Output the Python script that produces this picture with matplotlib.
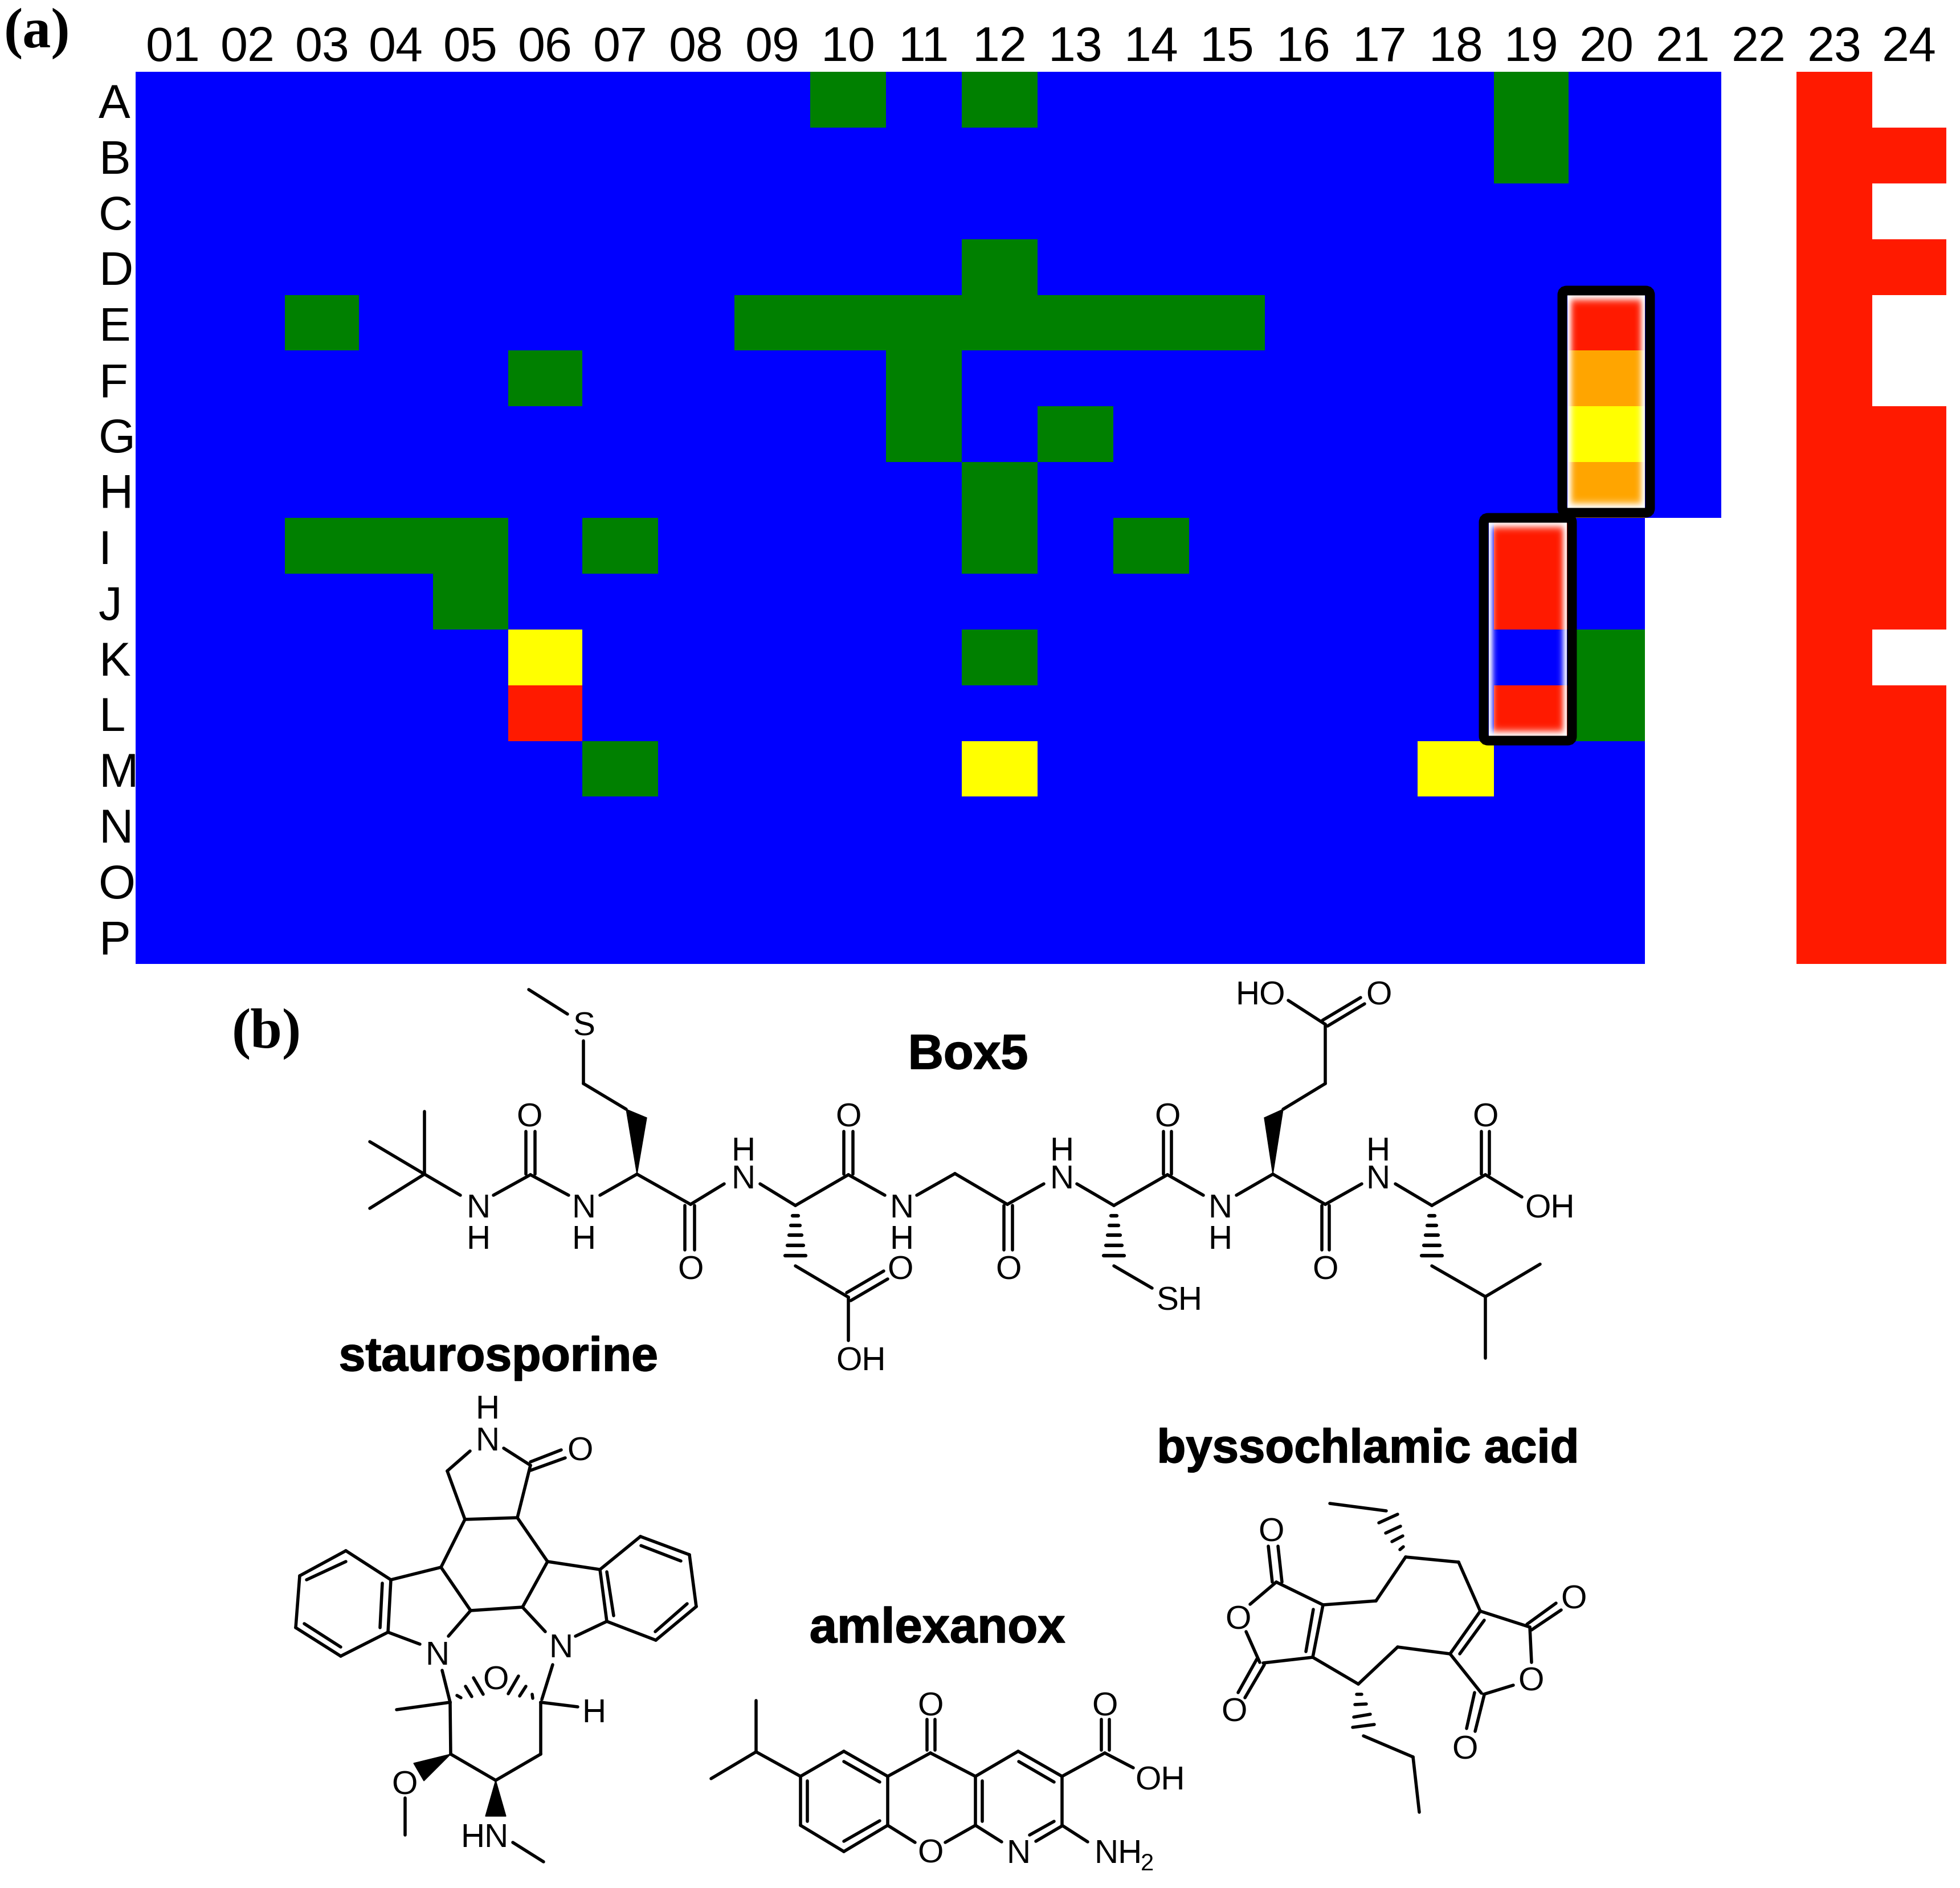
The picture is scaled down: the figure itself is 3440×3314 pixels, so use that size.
import matplotlib
matplotlib.use('Agg')
import matplotlib.pyplot as plt
from matplotlib.colors import ListedColormap, BoundaryNorm
from matplotlib.patches import FancyBboxPatch, Polygon
from matplotlib.transforms import ScaledTranslation
import matplotlib.patheffects as pe
import numpy as np

W, H = 3440, 3314
rows = list('ABCDEFGHIJKLMNOP')
cols = ['{:02d}'.format(i) for i in range(1, 25)]

# wells by colour, everything else in the plate is blue
green_wells = ['A10', 'A12', 'A19', 'B19', 'D12', 'E03', 'E09', 'E10', 'E11', 'E12', 'E13', 'E14', 'E15',
               'F06', 'F11', 'G11', 'G13', 'H12', 'I03', 'I04', 'I05', 'I07', 'I12', 'I14', 'J05', 'K12',
               'K20', 'L20', 'M07']
yellow_wells = ['K06', 'M12', 'M18', 'G20']
orange_wells = ['F20', 'H20']
red_wells = ['L06', 'E20', 'I19', 'J19', 'L19']
white_wells = ['I21', 'J21', 'K21', 'L21', 'M21', 'N21', 'O21', 'P21',
               'A24', 'C24', 'E24', 'F24', 'K24'] + [r + '22' for r in rows]
red_columns = ['23', '24']

# plate edges and highlight boxes, pixels (columns are not quite even in the picture)
col_edges = [238, 369, 500, 630, 760, 892, 1022, 1155, 1289, 1422, 1555, 1688, 1821, 1954, 2087, 2220,
             2354, 2488, 2622, 2753, 2887, 3021, 3153, 3286, 3416]
plate_top, plate_bottom = 126, 1692
boxes = [(2742, 510, 2896, 900), (2604, 909, 2759, 1300)]

# molecule drawings, pixels: bonds (x0, y0, x1, y1), wedges (tip, base, base), hashes, labels
box5_bonds = [
    (745, 2061, 745, 1951), (745, 2061, 649, 2004), (745, 2061, 649, 2121), (745, 2061, 808, 2098),
    (866, 2098, 931, 2062), (923, 1986, 923, 2061), (939, 1986, 939, 2061), (931, 2062, 998, 2098),
    (1053, 2098, 1118, 2061), (1024, 1902, 1099, 1947), (1024, 1902, 1024, 1827), (996, 1780, 928, 1737),
    (1118, 2061, 1212, 2114), (1202, 2116, 1202, 2194), (1219, 2116, 1219, 2194), (1212, 2114, 1271, 2078),
    (1334, 2078, 1396, 2116), (1396, 2116, 1489, 2062), (1481, 1986, 1481, 2061), (1497, 1986, 1497, 2061),
    (1489, 2062, 1553, 2098), (1396, 2222, 1489, 2277), (1489, 2277, 1489, 2353),
    (1486, 2269, 1551, 2231), (1493, 2283, 1558, 2245), (1609, 2098, 1676, 2060), (1676, 2060, 1768, 2114),
    (1762, 2116, 1762, 2194), (1777, 2116, 1777, 2194), (1768, 2114, 1832, 2078), (1890, 2078, 1955, 2116),
    (1955, 2116, 2049, 2062), (2042, 1986, 2042, 2061), (2056, 1986, 2056, 2061), (2049, 2062, 2112, 2098),
    (2170, 2098, 2234, 2061), (2252, 1947, 2326, 1902), (2326, 1902, 2326, 1798), (2326, 1798, 2261, 1756),
    (2321, 1791, 2388, 1751), (2330, 1801, 2395, 1762), (2234, 2061, 2326, 2114), (2320, 2116, 2320, 2194),
    (2333, 2116, 2333, 2194), (2326, 2114, 2390, 2078), (2449, 2078, 2513, 2116), (2513, 2116, 2607, 2062),
    (2600, 1986, 2600, 2061), (2614, 1986, 2614, 2061), (2607, 2062, 2671, 2101), (2513, 2222, 2607, 2276),
    (2607, 2276, 2703, 2219), (2607, 2276, 2607, 2384), (1955, 2222, 2022, 2261)]
box5_wedges = [((1118, 2061), (1099, 1947), (1135, 1962)), ((2234, 2061), (2219, 1962), (2252, 1947))]
box5_hash_x = [1396, 1955, 2513]
box5_hash_y = [2134, 2151, 2168, 2186, 2204]
box5_hash_half = [5, 8, 11, 14, 18]
box5_labels = [('N', 839, 2116), ('H', 839, 2171), ('N', 1024, 2116), ('H', 1024, 2171), ('O', 929, 1957),
               ('S', 1025, 1796), ('O', 1212, 2224), ('N', 1304, 2065), ('H', 1304, 2016), ('O', 1489, 1957),
               ('N', 1582, 2116), ('H', 1582, 2171), ('O', 1580, 2224), ('OH', 1511, 2384), ('O', 1770, 2224),
               ('N', 1863, 2065), ('H', 1863, 2016), ('O', 2049, 1957), ('N', 2141, 2116), ('H', 2141, 2171),
               ('HO', 2212, 1743), ('O', 2420, 1743), ('O', 2326, 2224), ('N', 2418, 2065), ('H', 2418, 2016),
               ('O', 2607, 1957), ('OH', 2720, 2116), ('SH', 2070, 2278)]

stauro_bonds = [
    (785, 2582, 825, 2547), (884, 2542, 931, 2572), (931, 2566, 985, 2545), (931, 2581, 992, 2559),
    (931, 2572, 908, 2664), (908, 2664, 816, 2667), (816, 2667, 785, 2582), (816, 2667, 774, 2751),
    (908, 2664, 961, 2741), (774, 2751, 826, 2827), (961, 2741, 917, 2821), (826, 2827, 917, 2821),
    (774, 2751, 686, 2773), (961, 2741, 1053, 2755), (826, 2827, 787, 2872), (686, 2773, 681, 2865),
    (681, 2865, 737, 2886), (686, 2773, 607, 2722), (607, 2722, 526, 2766), (526, 2766, 519, 2857),
    (519, 2857, 598, 2907), (598, 2907, 681, 2865), (671, 2779, 667, 2857), (607, 2741, 538, 2773),
    (534, 2850, 598, 2891), (917, 2821, 957, 2864), (1010, 2872, 1065, 2846), (1053, 2755, 1065, 2846),
    (1065, 2759, 1077, 2836), (1053, 2755, 1124, 2697), (1124, 2697, 1210, 2729), (1210, 2729, 1222, 2820),
    (1222, 2820, 1151, 2879), (1151, 2879, 1065, 2846), (1125, 2713, 1195, 2740), (1206, 2815, 1150, 2864),
    (776, 2932, 790, 2988), (790, 2988, 696, 3001), (790, 2988, 791, 3079), (791, 3079, 870, 3125),
    (870, 3125, 949, 3079), (949, 3079, 949, 2988), (951, 2983, 970, 2922), (949, 2988, 1014, 2996),
    (802, 2976, 809, 2980), (817, 2960, 828, 2978), (831, 2945, 848, 2974),
    (934, 2974, 935, 2981), (923, 2960, 912, 2977), (910, 2942, 892, 2973),
    (711, 3156, 711, 3221), (900, 3234, 954, 3268)]
stauro_wedges = [((791, 3079), (726, 3095), (744, 3126)), ((870, 3125), (852, 3188), (888, 3188))]
stauro_labels = [('H\nN', 855, 2497), ('O', 1018, 2543), ('N', 767, 2901), ('N', 984, 2888),
                 ('O', 870, 2944), ('H', 1042, 3002), ('O', 710, 3128), ('HN', 850, 3221)]

amlex_bonds = [
    (1327, 3075, 1327, 2985), (1327, 3075, 1248, 3122), (1327, 3075, 1405, 3118), (1405, 3118, 1481, 3074),
    (1481, 3074, 1558, 3118), (1558, 3118, 1633, 3077), (1633, 3077, 1712, 3118), (1712, 3118, 1787, 3074),
    (1787, 3074, 1864, 3118), (1864, 3118, 1939, 3077), (1405, 3118, 1405, 3204), (1405, 3204, 1481, 3250),
    (1481, 3250, 1558, 3204), (1558, 3204, 1558, 3118), (1481, 3092, 1544, 3128), (1417, 3126, 1417, 3197),
    (1481, 3232, 1544, 3196), (1558, 3204, 1606, 3234), (1659, 3234, 1712, 3204), (1712, 3118, 1712, 3204),
    (1724, 3126, 1724, 3197), (1712, 3204, 1758, 3233), (1818, 3232, 1864, 3205), (1807, 3221, 1850, 3197),
    (1864, 3118, 1864, 3204), (1864, 3204, 1909, 3233), (1788, 3092, 1850, 3128), (1627, 3018, 1627, 3072),
    (1641, 3018, 1641, 3072), (1933, 3018, 1933, 3072), (1947, 3018, 1947, 3072), (1939, 3077, 1989, 3103)]
amlex_labels = [('O', 1633, 3249), ('N', 1787, 3249), ('NH', 1962, 3249), ('O', 1633, 2991), ('O', 1939, 2991),
                ('OH', 2036, 3121)]

bysso_bonds = [
    (2322, 2817, 2304, 2909), (2305, 2825, 2292, 2899), (2322, 2817, 2240, 2777), (2304, 2909, 2217, 2919),
    (2240, 2777, 2194, 2816), (2187, 2864, 2211, 2918), (2226, 2714, 2233, 2777), (2243, 2714, 2250, 2777),
    (2206, 2912, 2173, 2971), (2219, 2922, 2185, 2980), (2322, 2817, 2415, 2810), (2415, 2810, 2467, 2733),
    (2467, 2733, 2560, 2742), (2560, 2742, 2598, 2828), (2598, 2828, 2685, 2856), (2598, 2828, 2545, 2903),
    (2605, 2844, 2562, 2903), (2545, 2903, 2453, 2891), (2453, 2891, 2384, 2956), (2384, 2956, 2304, 2909),
    (2545, 2903, 2600, 2972), (2685, 2856, 2688, 2918), (2656, 2958, 2604, 2974), (2680, 2851, 2731, 2814),
    (2688, 2861, 2740, 2826), (2588, 2971, 2574, 3034), (2605, 2975, 2589, 3039),
    (2457, 2720, 2463, 2715), (2443, 2706, 2462, 2696), (2432, 2691, 2458, 2679), (2420, 2673, 2453, 2658),
    (2433, 2652, 2334, 2639), (2381, 2974, 2390, 2974), (2378, 2992, 2398, 2991), (2376, 3014, 2405, 3009),
    (2374, 3032, 2412, 3027), (2393, 3047, 2480, 3084), (2480, 3084, 2491, 3181)]
bysso_labels = [('O', 2173, 2838), ('O', 2231, 2684), ('O', 2166, 3001), ('O', 2687, 2947), ('O', 2762, 2803),
                ('O', 2571, 3066)]

names = ['Box5', 'staurosporine', 'amlexanox', 'byssochlamic acid']
name_x = [1699, 875, 1645, 2401]
name_y = [1876, 2406, 2883, 2567]
name_size = [62, 60.5, 62.5, 60]

status = np.zeros((len(rows), len(cols)))
for j, c in enumerate(cols):
    if c in red_columns:
        status[:, j] = 4
for code, wells in [(1, green_wells), (2, yellow_wells), (3, orange_wells), (4, red_wells), (-1, white_wells)]:
    for w in wells:
        status[rows.index(w[0]), cols.index(w[1:])] = code

fig = plt.figure(figsize=(W / 100, H / 100), dpi=100)
ax = fig.add_axes([col_edges[0] / W, 1 - plate_bottom / H, (col_edges[-1] - col_edges[0]) / W, (plate_bottom - plate_top) / H])
cmap = ListedColormap(['white', '#0000ff', '#008000', '#ffff00', '#ffa500', '#ff1a00'])
norm = BoundaryNorm([-1.5, -0.5, 0.5, 1.5, 2.5, 3.5, 4.5], cmap.N)
col_edges = np.array(col_edges)
row_edges = np.arange(len(rows) + 1)
ax.pcolormesh(col_edges, row_edges, status, cmap=cmap, norm=norm, antialiased=False, linewidth=0)
ax.set_xlim(col_edges[0], col_edges[-1])
ax.set_ylim(len(rows), 0)
for s in ax.spines.values():
    s.set_visible(False)
ax.xaxis.tick_top()
tick_font = ['Liberation Sans']
ax.set_xticks((col_edges[:-1] + col_edges[1:]) / 2)
ax.set_xticklabels(cols, family=tick_font, fontsize=62)
ax.set_yticks(np.arange(len(rows)) + 0.5)
ax.set_yticklabels(rows, family=tick_font, fontsize=60, ha='left')
ax.tick_params(length=0)
ax.tick_params(axis='x', pad=1)
ax.tick_params(axis='y', pad=47)
for lab in ax.get_yticklabels():
    lab.set_transform(lab.get_transform() + ScaledTranslation(0, -1 / 72, fig.dpi_scale_trans))

# pixel overlay for highlight boxes and the molecule drawings
ov = fig.add_axes([0, 0, 1, 1], facecolor='none')
ov.axis('off')

for x0, y0, x1, y1 in boxes:
    # soft white glow just inside the box
    ix0, ix1, iy0, iy1 = x0 + 9, x1 - 9, y0 + 8, y1 - 8
    xx = np.arange(ix0, ix1) + 0.5
    yy = np.arange(iy0, iy1) + 0.5
    dx = np.minimum(xx - ix0, ix1 - xx)
    dy = np.minimum(yy - iy0, iy1 - yy)
    gx = 0.92 * np.exp(-(dx / 9) ** 2)
    gy = 0.92 * np.exp(-(dy / 11) ** 2)
    alpha = 1 - np.outer(1 - gy, 1 - gx)
    rgba = np.ones((len(yy), len(xx), 4))
    rgba[..., 3] = alpha
    ov.imshow(rgba, extent=(ix0, ix1, iy1, iy0), aspect='auto', interpolation='bilinear', zorder=2)
    ov.add_patch(FancyBboxPatch((x0, y0), x1 - x0, y1 - y0, boxstyle='round,pad=0,rounding_size=8',
                                fc='none', ec='black', lw=12.2, zorder=3))
ov.set_xlim(0, W)
ov.set_ylim(H, 0)


def draw_bonds(bonds):
    for x0, y0, x1, y1 in bonds:
        ov.plot([x0, x1], [y0, y1], color='k', lw=4, solid_capstyle='round')


def draw_wedges(wedges):
    for tip, b0, b1 in wedges:
        ov.add_patch(Polygon([tip, b0, b1], closed=True, fc='k', ec='k', lw=1))


def draw_labels(labels):
    for s, x, y in labels:
        ov.text(x, y + 6, s, family='Liberation Sans', fontsize=42, ha='center', va='center', color='k',
                linespacing=1.05)


draw_bonds(box5_bonds)
draw_wedges(box5_wedges)
draw_labels(box5_labels)
for hx in box5_hash_x:
    for hy, hw in zip(box5_hash_y, box5_hash_half):
        ov.plot([hx - hw, hx + hw], [hy, hy], color='k', lw=4.5, solid_capstyle='round')

draw_bonds(stauro_bonds)
draw_wedges(stauro_wedges)
draw_labels(stauro_labels)

draw_bonds(amlex_bonds)
draw_labels(amlex_labels)
ov.text(2014, 3272, '2', family='Liberation Sans', fontsize=30, ha='center', va='center')

draw_bonds(bysso_bonds)
draw_labels(bysso_labels)

for s, x, y, fs in zip(names, name_x, name_y, name_size):
    ov.text(x, y, s, family='Liberation Sans', weight='bold', fontsize=fs, ha='center', va='baseline',
            path_effects=[pe.withStroke(linewidth=1.2, foreground='k')])

ov.text(65, 83, '(a)', family='Liberation Serif', weight='bold', fontsize=72, ha='center', va='baseline')
ov.text(468, 1839, '(b)', family='Liberation Serif', weight='bold', fontsize=72, ha='center', va='baseline')

fig.savefig('out.png', dpi=100, facecolor='white')
